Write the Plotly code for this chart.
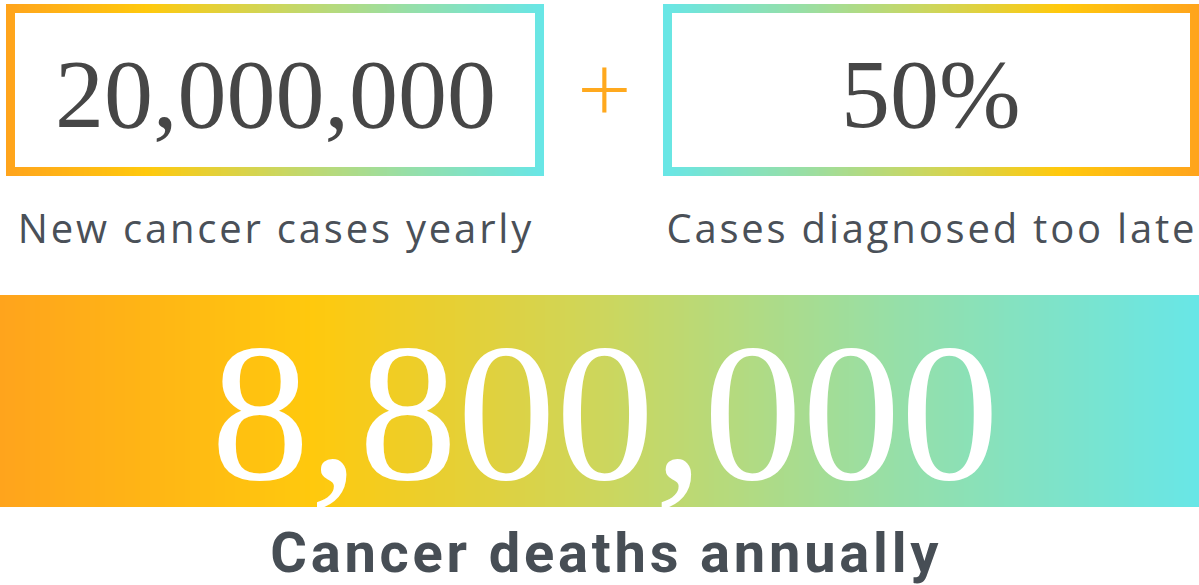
import numpy as np
import plotly.graph_objects as go

# ---- content ----
stat_values = ["20,000,000", "50%"]
stat_labels = ["New cancer cases yearly", "Cases diagnosed too late"]
operator = "+"
total_value = "8,800,000"
total_label = "Cancer deaths annually"

# gradient stops (position, colour)
grad_pos = [0.0, 0.26, 0.5, 0.75, 1.0]
grad_col = ["#FFA41C", "#FFC90D", "#CDD65C", "#96DFA8", "#68E6E6"]

W, H = 1199, 585
colorscale = [[p, c] for p, c in zip(grad_pos, grad_col)]
colorscale_rev = [[1 - p, c] for p, c in zip(grad_pos, grad_col)][::-1]

fig = go.Figure()


def gradient_block(x0, x1, y0, y1, cs, n=240):
    edges = np.linspace(x0, x1, n + 1)
    z = [list(np.linspace(0, 1, n))]
    fig.add_trace(go.Heatmap(
        x=edges, y=[y0, y1], z=z, colorscale=cs, zmin=0, zmax=1,
        showscale=False, hoverinfo="skip", zsmooth=False,
    ))


boxes = [(6, 544, 4, 176, colorscale), (663, 1199, 4, 176, colorscale_rev)]
border = 9
for (x0, x1, y0, y1, cs) in boxes:
    gradient_block(x0, x1, y0, y1, cs)
    fig.add_shape(type="rect", x0=x0 + border, x1=x1 - border,
                  y0=y0 + border, y1=y1 - border,
                  fillcolor="white", line_width=0, layer="above")

# banner
gradient_block(0, W, 295, 507, colorscale)

num_font = dict(family="Liberation Serif", size=98, color="#464646")
lab_font = dict(family="Open Sans", size=40, color="#4A5058")
for (x0, x1, y0, y1, cs), val, lab in zip(boxes, stat_values, stat_labels):
    cx = (x0 + x1) / 2
    fig.add_annotation(x=cx, y=(y0 + y1) / 2 + 4, text=val, showarrow=False,
                       font=num_font, xanchor="center", yanchor="middle")
    fig.add_annotation(x=cx + 1, y=227, text=lab, showarrow=False,
                       font=lab_font, xanchor="center", yanchor="middle")

fig.add_annotation(x=604, y=86, text=operator, showarrow=False,
                   font=dict(family="Open Sans", size=96, color="#FFA91E", weight=300),
                   xanchor="center", yanchor="middle")

fig.add_annotation(x=605, y=412, text=total_value, showarrow=False,
                   font=dict(family="Liberation Serif", size=197, color="white"),
                   xanchor="center", yanchor="middle")
fig.add_annotation(x=606, y=553, text=total_label, showarrow=False,
                   font=dict(family="Roboto", size=56, color="#474E55", weight=700),
                   xanchor="center", yanchor="middle")

fig.update_xaxes(range=[0, W], visible=False, showgrid=False, zeroline=False, fixedrange=True)
fig.update_yaxes(range=[H, 0], visible=False, showgrid=False, zeroline=False, fixedrange=True)
fig.update_layout(width=W, height=H, margin=dict(l=0, r=0, t=0, b=0),
                  paper_bgcolor="white", plot_bgcolor="white", showlegend=False)

post = """
document.body.style.margin = '0';
document.body.style.overflow = 'hidden';
function spaceText() {
  var spacing = {%s};
  document.querySelectorAll('text.annotation-text').forEach(function (t) {
    var s = spacing[t.textContent];
    if (s !== undefined) { t.style.letterSpacing = s + 'px'; }
  });
}
spaceText();
setTimeout(spaceText, 0);
setTimeout(spaceText, 200);
""" % ", ".join(
    ['"%s": 2.8' % s for s in stat_labels] + ['"%s": 3.8' % total_label]
)

fig.write_html("out.html", config={"displayModeBar": False}, post_script=post)
